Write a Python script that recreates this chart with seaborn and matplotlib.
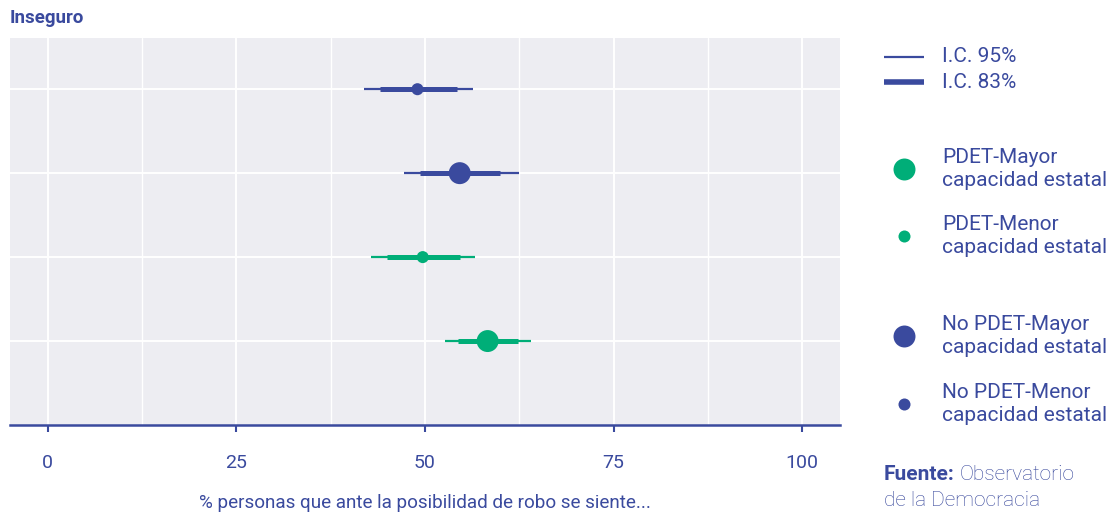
import numpy as np
import pandas as pd
import matplotlib
matplotlib.use("Agg")
import matplotlib.pyplot as plt
import seaborn as sns

# data (top row first)
groups = [
    "No PDET-Menor capacidad estatal",
    "No PDET-Mayor capacidad estatal",
    "PDET-Menor capacidad estatal",
    "PDET-Mayor capacidad estatal",
]
estimate = [49.0, 54.6, 49.7, 58.3]
ci95_low = [41.9, 47.2, 42.8, 52.7]
ci95_high = [56.4, 62.4, 56.6, 64.0]
ci83_low = [44.1, 49.4, 44.9, 54.4]
ci83_high = [54.3, 60.0, 54.6, 62.3]
pdet = ["No PDET", "No PDET", "PDET", "PDET"]
capacidad = ["Menor", "Mayor", "Menor", "Mayor"]

x_ticks = [0, 25, 50, 75, 100]
panel_title = "Inseguro"
x_label = "% personas que ante la posibilidad de robo se siente..."

BLUE = "#3A4A9E"
GREEN = "#00AE78"
PANEL = "#EDEDF2"
palette = {"No PDET": BLUE, "PDET": GREEN}
sizes = {"Mayor": 250, "Menor": 75}

df = pd.DataFrame({
    "grupo": groups,
    "estimate": estimate,
    "lo95": ci95_low,
    "hi95": ci95_high,
    "lo83": ci83_low,
    "hi83": ci83_high,
    "pdet": pdet,
    "capacidad": capacidad,
})
df["row"] = np.arange(1, len(df) + 1)

sns.set_theme(style="darkgrid")
plt.rcParams["font.family"] = ["Roboto", "DejaVu Sans"]

fig = plt.figure(figsize=(11.07, 5.12), dpi=100)
ax = fig.add_axes([10 / 1107, 87 / 512, 830 / 1107, 387 / 512])
ax.set_facecolor(PANEL)

# confidence intervals
colors = df["pdet"].map(palette)
ax.hlines(df["row"], df["lo95"], df["hi95"], colors=colors, linewidth=1.6, zorder=2)
ax.hlines(df["row"], df["lo83"], df["hi83"], colors=colors, linewidth=3.6, zorder=3)

sns.scatterplot(
    data=df, x="estimate", y="row", hue="pdet", palette=palette,
    size="capacidad", sizes=sizes, linewidth=0, legend=False, ax=ax, zorder=4,
)

ax.set_xlim(-5, 105)
ax.set_ylim(5.0, 0.39)
ax.set_xticks(x_ticks)
ax.set_xticks([12.5, 37.5, 62.5, 87.5], minor=True)
ax.set_yticks(df["row"])
ax.set_yticklabels([])
ax.grid(which="major", color="white", linewidth=1.4)
ax.grid(which="minor", axis="x", color="white", linewidth=1.0)
ax.tick_params(axis="x", which="major", colors=BLUE, labelsize=14,
               length=5, width=1.5, direction="out", pad=16, bottom=True)
ax.tick_params(axis="x", which="minor", length=0)
ax.tick_params(axis="y", length=0)
for side in ["top", "right", "left"]:
    ax.spines[side].set_visible(False)
ax.spines["bottom"].set_color(BLUE)
ax.spines["bottom"].set_linewidth(1.8)
ax.set_xlabel(x_label, color=BLUE, fontsize=13.6, labelpad=16)
ax.set_ylabel("")

fig.text(10 / 1107, 1 - 18 / 512, panel_title, color=BLUE, fontsize=13.5,
         fontweight="bold", va="center", ha="left")

# legend drawn in a pixel-coordinate overlay
leg = fig.add_axes([860 / 1107, 0, 247 / 1107, 1])
leg.set_xlim(860, 1107)
leg.set_ylim(512, 0)
leg.axis("off")
leg.plot([884, 924], [57, 57], color=BLUE, linewidth=1.6, solid_capstyle="butt")
leg.plot([884, 924], [82, 82], color=BLUE, linewidth=4.0, solid_capstyle="butt")
leg.text(942, 57, "I.C. 95%", color=BLUE, fontsize=15, va="center")
leg.text(942, 82, "I.C. 83%", color=BLUE, fontsize=15, va="center")

leg_items = [
    ("PDET-Mayor\ncapacidad estatal", GREEN, 250, 169),
    ("PDET-Menor\ncapacidad estatal", GREEN, 75, 236),
    ("No PDET-Mayor\ncapacidad estatal", BLUE, 250, 336),
    ("No PDET-Menor\ncapacidad estatal", BLUE, 75, 404),
]
for label, c, s, y in leg_items:
    leg.scatter([904], [y], s=s, color=c, linewidth=0)
    leg.text(942, y, label, color=BLUE, fontsize=15, va="center",
             linespacing=1.3)

fuente = leg.text(884, 475, "Fuente:", color=BLUE, fontsize=15, va="center",
                  fontweight="bold")
fig.canvas.draw()
bb = fuente.get_window_extent().transformed(leg.transData.inverted())
leg.text(bb.x1 + 5, 475, "Observatorio", color="#34449A", fontsize=15,
         va="center", fontweight="light")
leg.text(884, 500, "de la Democracia", color="#34449A", fontsize=15,
         va="center", fontweight="light")

fig.savefig("out.png", dpi=100)
